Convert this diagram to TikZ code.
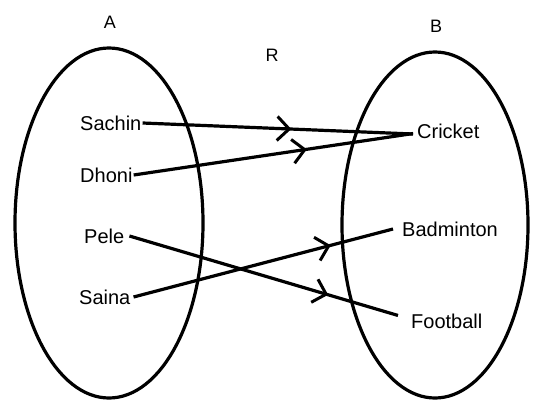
\documentclass[tikz,border=0pt]{standalone}
\usepackage{fontspec}
\setmainfont{Liberation Sans}
\usetikzlibrary{arrows.meta,decorations.markings}
\tikzset{
  setshape/.style={draw, line width=3.2pt},
  setlabel/.style={font=\fontsize{18}{20}\selectfont, inner sep=0pt},
  item/.style={font=\fontsize{20}{22}\selectfont, inner sep=0pt, anchor=west},
  rel/.style={line width=3.2pt, postaction={decorate}},
  midarrow/.style={decoration={markings, mark=at position #1 with {\arrow{Straight Barb[length=12pt,width=24pt,line width=3pt]}}}}
}
\begin{document}
\begin{tikzpicture}[x=1pt,y=-1pt]
\useasboundingbox (0,0) rectangle (537,401);
\fill[white] (0,0) rectangle (537,401);
% sets
\draw[setshape] (109,223) ellipse [x radius=94, y radius=175];
\draw[setshape] (435,225) ellipse [x radius=93, y radius=173];
\node[setlabel] (A) at (110,22) {A};
\node[setlabel] (B) at (436,26) {B};
\node[setlabel] (R) at (272,55) {R};
% elements of A
\node[item] (sachin) at (80,123) {Sachin};
\node[item] (dhoni) at (80,175) {Dhoni};
\node[item] (pele) at (84,236) {Pele};
\node[item] (saina) at (79,297) {Saina};
% elements of B
\node[item] (cricket) at (417,131) {Cricket};
\node[item] (badminton) at (402,229) {Badminton};
\node[item] (football) at (411,321) {Football};
% relation
\draw[rel, midarrow=0.55] ([xshift=1pt]sachin.east) -- ([yshift=-3pt,xshift=-4pt]cricket.west);
\draw[rel, midarrow=0.62] ([xshift=1pt]dhoni.east) -- ([yshift=5pt,xshift=-4pt]cricket.south west);
\draw[rel, midarrow=0.74] ([xshift=5pt]pele.east) -- ([xshift=-13pt,yshift=-2pt]football.north west);
\draw[rel, midarrow=0.76] ([xshift=3pt]saina.east) -- ([xshift=-9pt]badminton.west);
\end{tikzpicture}
\end{document}
